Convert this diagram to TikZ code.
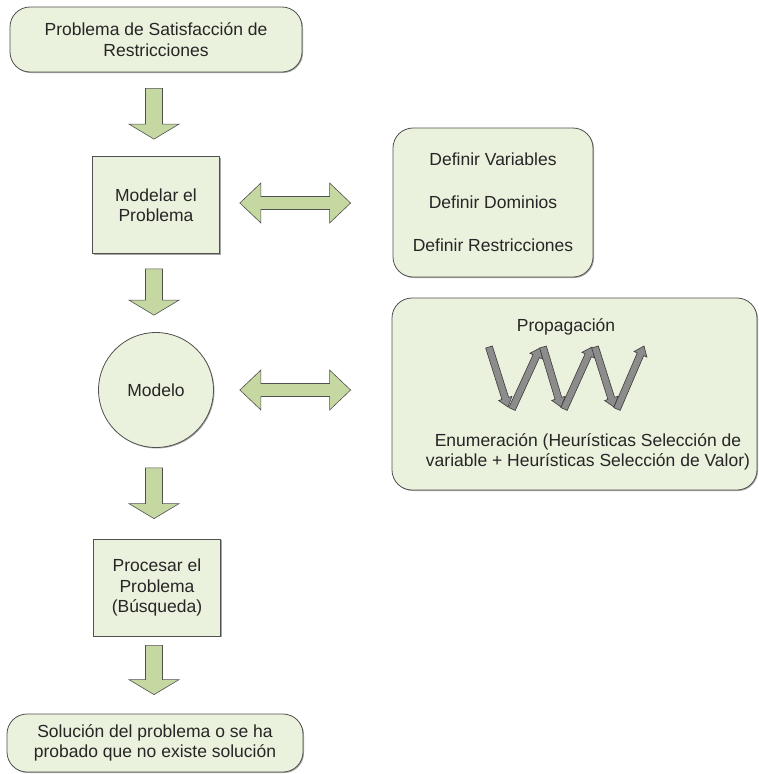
\documentclass[tikz,border=0pt]{standalone}
\usepackage{fontspec}
\setmainfont{Liberation Sans}
\usepackage{xcolor}
\usepackage{tikz}
\usetikzlibrary{calc, positioning, shadows}

\definecolor{boxfill}{HTML}{EAF1DD}
\definecolor{arrowfill}{HTML}{C6D8A2}
\definecolor{edge}{HTML}{505050}
\definecolor{ink}{HTML}{262626}
\definecolor{zigfill}{HTML}{8C8C8C}
\definecolor{zigedge}{HTML}{3C3C3C}

% block arrow: style, from, to, shaft half width, head half width, head length
\newcommand\blockarrow[6]{%
  \path (#2) coordinate (ba-a) (#3) coordinate (ba-b);
  \path ($(ba-b)!#6!(ba-a)$) coordinate (ba-h);
  \draw[#1] ($(ba-a)!#4!90:(ba-b)$) -- ($(ba-h)!#4!90:(ba-b)$)
    -- ($(ba-h)!#5!90:(ba-b)$) -- (ba-b) -- ($(ba-h)!#5!-90:(ba-b)$)
    -- ($(ba-h)!#4!-90:(ba-b)$) -- ($(ba-a)!#4!-90:(ba-b)$) -- cycle;}
% double block arrow, same arguments
\newcommand\dblarrow[6]{%
  \path (#2) coordinate (da-a) (#3) coordinate (da-b);
  \path ($(da-a)!#6!(da-b)$) coordinate (da-ha) ($(da-b)!#6!(da-a)$) coordinate (da-hb);
  \draw[#1] (da-a) -- ($(da-ha)!#5!90:(da-b)$) -- ($(da-ha)!#4!90:(da-b)$)
    -- ($(da-hb)!#4!90:(da-b)$) -- ($(da-hb)!#5!90:(da-b)$) -- (da-b)
    -- ($(da-hb)!#5!-90:(da-b)$) -- ($(da-hb)!#4!-90:(da-b)$)
    -- ($(da-ha)!#4!-90:(da-b)$) -- ($(da-ha)!#5!-90:(da-b)$) -- cycle;}

\begin{document}
\begin{tikzpicture}[x=1pt, y=-1pt,
    every node/.style={text=ink, font=\fontsize{17.5}{20.5}\selectfont, align=center},
    boxshadow/.style={drop shadow={shadow xshift=1pt, shadow yshift=-1pt,
                opacity=0.35, fill=black}},
    roundbox/.style={rectangle, draw=edge, fill=boxfill, line width=0.8pt,
                rounded corners=20pt, inner sep=0pt, boxshadow},
    sqbox/.style={rectangle, draw=edge, fill=boxfill, line width=0.8pt,
                minimum width=127pt, minimum height=97pt, inner sep=0pt, boxshadow},
    bigarrow/.style={draw=edge, fill=arrowfill, line width=0.6pt, line join=miter},
    zigarrow/.style={draw=zigedge, fill=zigfill, line width=0.6pt, line join=miter}]

\useasboundingbox (0,0) rectangle (758,774);

% left column
\node[roundbox, minimum width=292pt, minimum height=65pt] (psr) at (156,39.5)
  {Problema de Satisfacción de\\Restricciones};
\node[sqbox] (modelar) at (156,205) {Modelar el\\Problema};
\node[circle, draw=edge, fill=boxfill, line width=0.8pt, minimum size=115pt,
      inner sep=0pt, boxshadow] (modelo) at (156,390) {Modelo};
\node[sqbox] (procesar) at (157,587.5) {Procesar el\\Problema\\(Búsqueda)};
\node[roundbox, minimum width=296pt, minimum height=58pt] (solucion) at (155,743)
  {Solución del problema o se ha\\probado que no existe solución};

% right column
\node[roundbox, minimum width=200pt, minimum height=149pt] (definir) at (493,202.5)
  {Definir Variables\\[22.5pt]Definir Dominios\\[22.5pt]Definir Restricciones};
\node[roundbox, minimum width=365pt, minimum height=192pt] (busqueda) at (574.5,394) {};
\node (propag) at (566,327) {Propagación};
\node (enum) at (588,452)
  {Enumeración (Heurísticas Selección de\\variable + Heurísticas Selección de Valor)};

% arrows down
\blockarrow{bigarrow}{$(psr.south)+(-2,16)$}{$(modelar.north)+(-2,-17)$}{8.5pt}{25pt}{15pt}
\blockarrow{bigarrow}{$(modelar.south)+(-2,15)$}{$(modelo.north)+(-2,-17)$}{8.5pt}{25pt}{15pt}
\blockarrow{bigarrow}{$(modelo.south)+(-2,20)$}{$(procesar.north)+(-3,-20)$}{8.5pt}{25pt}{15pt}
\blockarrow{bigarrow}{$(procesar.south)+(-3,9)$}{$(solucion.north)+(-1,-19)$}{8.5pt}{25pt}{15pt}

% arrows both ways
\dblarrow{bigarrow}{$(modelar.east)+(20,-2)$}{$(definir.west)+(-42,0.5)$}{6.5pt}{20pt}{21pt}
\dblarrow{bigarrow}{$(modelo.east)+(26,0)$}{$(busqueda.west)+(-41,-4)$}{6.5pt}{20pt}{21pt}

% propagation zigzag
\coordinate (z0) at (489,347);
\coordinate (z1) at (508,407);
\coordinate (z2) at (512,409);
\coordinate (z3) at (540,348);
\coordinate (z4) at (543,347);
\coordinate (z5) at (561,407);
\coordinate (z6) at (564,409);
\coordinate (z7) at (592,347);
\coordinate (z8) at (595,347);
\coordinate (z9) at (614,407);
\coordinate (z10) at (617,409);
\coordinate (z11) at (644,346);
\blockarrow{zigarrow}{z0}{z1}{3.5pt}{7pt}{9pt}
\blockarrow{zigarrow}{z2}{z3}{3.5pt}{7pt}{9pt}
\blockarrow{zigarrow}{z4}{z5}{3.5pt}{7pt}{9pt}
\blockarrow{zigarrow}{z6}{z7}{3.5pt}{7pt}{9pt}
\blockarrow{zigarrow}{z8}{z9}{3.5pt}{7pt}{9pt}
\blockarrow{zigarrow}{z10}{z11}{3.5pt}{7pt}{9pt}
\end{tikzpicture}
\end{document}
